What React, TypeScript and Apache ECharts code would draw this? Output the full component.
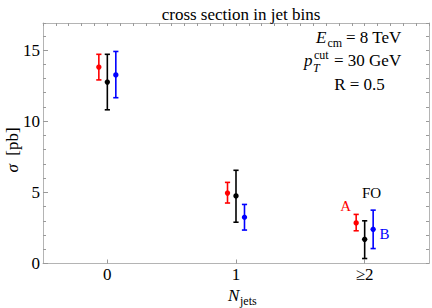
import React, { useEffect, useRef } from "react";
import * as echarts from "echarts";

const categories = [0, 1, 2];
const xTickLabels = ["0", "1", "≥2"];
const yTickValues = [0, 5, 10, 15];

const seriesNames = ["A", "FO", "B"];
const seriesColors = ["#ff0000", "#000000", "#0000ff"];
const seriesOffsets = [-0.066, 0, 0.066];

const aCentral = [13.8, 4.95, 2.85];
const aLow = [12.9, 4.25, 2.3];
const aHigh = [14.7, 5.7, 3.45];

const foCentral = [12.75, 4.75, 1.7];
const foLow = [10.8, 2.9, 0.35];
const foHigh = [14.7, 6.55, 3.0];

const bCentral = [13.25, 3.25, 2.4];
const bLow = [11.65, 2.35, 1.05];
const bHigh = [14.9, 4.15, 3.75];

const labelX = [1.853, 2.054, 2.155];
const labelY = [4.05, 4.96, 2.08];

const FONT = "Liberation Serif";
const FRAME = "#b4b4b4";
const TICK = "#9a9a9a";

export default function App() {
  const ref = useRef<HTMLDivElement>(null);
  useEffect(() => {
    document.body.style.margin = "0";
    if (!ref.current) return;
    const chart = echarts.init(ref.current, null, { renderer: "svg" });
    const central = [aCentral, foCentral, bCentral];
    const lows = [aLow, foLow, bLow];
    const highs = [aHigh, foHigh, bHigh];

    const errSeries = seriesNames.map((name, si) => ({
      type: "custom",
      name,
      xAxisIndex: 0,
      yAxisIndex: 0,
      data: categories.map((c, i) => [c + seriesOffsets[si], central[si][i], lows[si][i], highs[si][i]]),
      renderItem: (params: any, api: any) => {
        const x = api.value(0);
        const pc = api.coord([x, api.value(1)]);
        const pl = api.coord([x, api.value(2)]);
        const ph = api.coord([x, api.value(3)]);
        const color = seriesColors[si];
        const st = { stroke: color, lineWidth: 1.6 };
        return {
          type: "group",
          children: [
            { type: "line", shape: { x1: pl[0], y1: pl[1], x2: ph[0], y2: ph[1] }, style: st },
            { type: "line", shape: { x1: pl[0] - 2.6, y1: pl[1], x2: pl[0] + 2.6, y2: pl[1] }, style: st },
            { type: "line", shape: { x1: ph[0] - 2.6, y1: ph[1], x2: ph[0] + 2.6, y2: ph[1] }, style: st },
            { type: "circle", shape: { cx: pc[0], cy: pc[1], r: 2.7 }, style: { fill: color } },
          ],
        };
      },
      z: 3,
    }));

    const labelSeries = {
      type: "scatter",
      xAxisIndex: 0,
      yAxisIndex: 0,
      symbolSize: 0,
      silent: true,
      data: seriesNames.map((n, i) => ({
        value: [labelX[i], labelY[i]],
        name: n,
        itemStyle: { color: seriesColors[i] },
        label: { color: seriesColors[i], textBorderColor: seriesColors[i] },
      })),
      label: {
        show: true,
        position: "inside",
        formatter: (p: any) => p.name,
        fontFamily: FONT,
        fontSize: 15,
        textBorderWidth: 0,
        textShadowBlur: 0,
        opacity: 1,
      },
    };

    const axisLine = { show: true, onZero: false, lineStyle: { color: FRAME, width: 1 } };

    chart.setOption({
      animation: false,
      backgroundColor: "#ffffff",
      title: {
        text: "cross section in jet bins",
        left: 236,
        textAlign: "center",
        top: 1,
        textStyle: { fontFamily: FONT, fontSize: 17, fontWeight: "normal", color: "#000" },
      },
      grid: { left: 43, right: 3, top: 23, bottom: 44.5, containLabel: false },
      xAxis: [
        {
          type: "value",
          position: "bottom",
          min: -0.5,
          max: 2.5,
          axisLine,
          axisTick: { show: true, inside: true, length: 4, customValues: categories, lineStyle: { color: TICK } },
          axisLabel: {
            customValues: categories,
            formatter: (v: number) => xTickLabels[categories.indexOf(Math.round(v))] ?? "",
            fontFamily: FONT,
            fontSize: 17,
            color: "#000",
            margin: 2,
          },
          splitLine: { show: false },
        },
        {
          type: "value",
          position: "top",
          min: -0.5,
          max: 2.5,
          interval: 0.1,
          axisLine,
          axisTick: { show: true, inside: true, length: 3, lineStyle: { color: TICK } },
          axisLabel: { show: false },
          splitLine: { show: false },
        },
      ],
      yAxis: [
        {
          type: "value",
          position: "left",
          min: 0,
          max: 16.9,
          axisLine,
          axisTick: { show: true, inside: true, length: 5, customValues: yTickValues, lineStyle: { color: TICK } },
          axisLabel: {
            customValues: yTickValues,
            fontFamily: FONT,
            fontSize: 17,
            color: "#000",
            margin: 3,
          },
          splitLine: { show: false },
        },
        {
          type: "value",
          position: "left",
          min: 0,
          max: 16.9,
          interval: 1,
          axisLine: { show: false, onZero: false },
          axisTick: { show: true, inside: true, length: 3, lineStyle: { color: TICK } },
          axisLabel: { show: false },
          splitLine: { show: false },
        },
        {
          type: "value",
          position: "right",
          min: 0,
          max: 16.9,
          interval: 1,
          axisLine,
          axisTick: { show: true, inside: true, length: 3, lineStyle: { color: TICK } },
          axisLabel: { show: false },
          splitLine: { show: false },
        },
      ],
      graphic: [
        // E_cm = 8 TeV
        { type: "text", x: 316, y: 46, style: { text: "E", font: `italic 17px "${FONT}"`, fill: "#000", verticalAlign: "bottom" } },
        { type: "text", x: 327.5, y: 49, style: { text: "cm", font: `12px "${FONT}"`, fill: "#000", verticalAlign: "bottom" } },
        { type: "text", x: 346, y: 46, style: { text: "= 8 TeV", font: `17px "${FONT}"`, fill: "#000", verticalAlign: "bottom" } },
        // p_T^cut = 30 GeV
        { type: "text", x: 304, y: 69, style: { text: "p", font: `italic 17px "${FONT}"`, fill: "#000", verticalAlign: "bottom" } },
        { type: "text", x: 313, y: 74, style: { text: "T", font: `italic 12px "${FONT}"`, fill: "#000", verticalAlign: "bottom" } },
        { type: "text", x: 314, y: 61, style: { text: "cut", font: `12px "${FONT}"`, fill: "#000", verticalAlign: "bottom" } },
        { type: "text", x: 334, y: 69, style: { text: "= 30 GeV", font: `17px "${FONT}"`, fill: "#000", verticalAlign: "bottom" } },
        // R = 0.5
        { type: "text", x: 359.5, y: 93, style: { text: "R = 0.5", font: `17px "${FONT}"`, fill: "#000", align: "center", verticalAlign: "bottom" } },
        // y axis name
        {
          type: "text",
          x: 12,
          y: 150,
          rotation: Math.PI / 2,
          style: {
            text: "{i|σ}  [pb]",
            font: `17px "${FONT}"`,
            fill: "#000",
            align: "center",
            verticalAlign: "middle",
            rich: { i: { fontFamily: FONT, fontStyle: "italic", fontSize: 17 } },
          },
        },
        // x axis name
        { type: "text", x: 228, y: 304, style: { text: "N", font: `italic 17px "${FONT}"`, fill: "#000", verticalAlign: "bottom" } },
        { type: "text", x: 240, y: 307, style: { text: "jets", font: `12px "${FONT}"`, fill: "#000", verticalAlign: "bottom" } },
      ],
      series: [...errSeries, labelSeries],
    });
    return () => chart.dispose();
  }, []);
  return <div ref={ref} style={{ width: 432, height: 308 }} />;
}
